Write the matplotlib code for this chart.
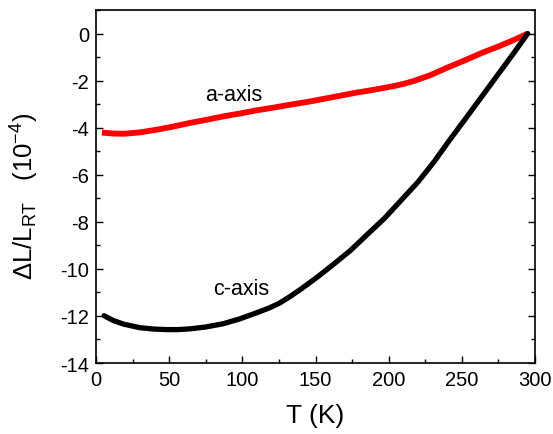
import matplotlib
matplotlib.use('Agg')
import matplotlib.pyplot as plt
from matplotlib.ticker import MultipleLocator

plt.rcParams['font.family'] = 'Liberation Sans'
plt.rcParams['mathtext.fontset'] = 'custom'
plt.rcParams['mathtext.rm'] = 'Liberation Sans'
plt.rcParams['mathtext.it'] = 'Liberation Sans:italic'
plt.rcParams['axes.unicode_minus'] = False

# thermal expansion relative to room temperature, units of 1e-4
T_a = [4, 12, 19, 30, 42, 53, 64, 76, 87, 99, 110, 122, 133, 145, 156, 167, 178, 187,
       195, 203, 210, 217, 228, 240, 252, 263, 275, 286, 295]
dL_a = [-4.21, -4.25, -4.26, -4.20, -4.08, -3.95, -3.80, -3.66, -3.52, -3.39, -3.26,
        -3.14, -3.02, -2.90, -2.77, -2.64, -2.51, -2.42, -2.33, -2.24, -2.14, -2.02,
        -1.78, -1.45, -1.14, -0.84, -0.55, -0.26, 0.0]

T_c = [5.5, 12, 19, 30, 40, 48, 56, 64, 75, 87, 98, 110, 118, 125, 133, 140, 151, 162,
       174, 185, 197, 208, 220, 231, 241, 252, 263, 274, 285, 295]
dL_c = [-11.99, -12.20, -12.35, -12.50, -12.56, -12.58, -12.58, -12.55, -12.47, -12.33,
        -12.13, -11.86, -11.67, -11.47, -11.16, -10.86, -10.36, -9.82, -9.21, -8.56,
        -7.86, -7.12, -6.31, -5.45, -4.58, -3.66, -2.73, -1.80, -0.87, 0.0]

fig = plt.figure(figsize=(5.53, 4.35), dpi=100)
ax = fig.add_axes([0.1736, 0.1632, 0.7939, 0.8115])

ax.plot(T_a, dL_a, color='#ff0000', lw=4.2, solid_capstyle='butt', solid_joinstyle='round')
ax.plot(T_c, dL_c, color='black', lw=3.8, solid_capstyle='round', solid_joinstyle='round')

ax.text(94, -2.6, 'a-axis', ha='center', va='center', fontsize=15.5)
ax.text(99, -10.85, 'c-axis', ha='center', va='center', fontsize=15.5)

ax.set_xlim(0, 300)
ax.set_ylim(-14, 1)
ax.xaxis.set_major_locator(MultipleLocator(50))
ax.xaxis.set_minor_locator(MultipleLocator(25))
ax.yaxis.set_major_locator(MultipleLocator(2))
ax.yaxis.set_minor_locator(MultipleLocator(1))

ax.tick_params(which='both', direction='in', top=False, right=True, width=1.0)
ax.tick_params(which='major', length=5, labelsize=14.5, pad=5)
ax.tick_params(which='minor', length=3)
for s in ax.spines.values():
    s.set_linewidth(1.2)

ax.set_xlabel('T (K)', fontsize=19, labelpad=10)
ax.set_ylabel(r'$\Delta$L/L$_{\rm RT}$   (10$^{-4}$)', fontsize=18.5)
ax.yaxis.set_label_coords(-0.125, 0.475)

fig.savefig('out.png', dpi=100)
